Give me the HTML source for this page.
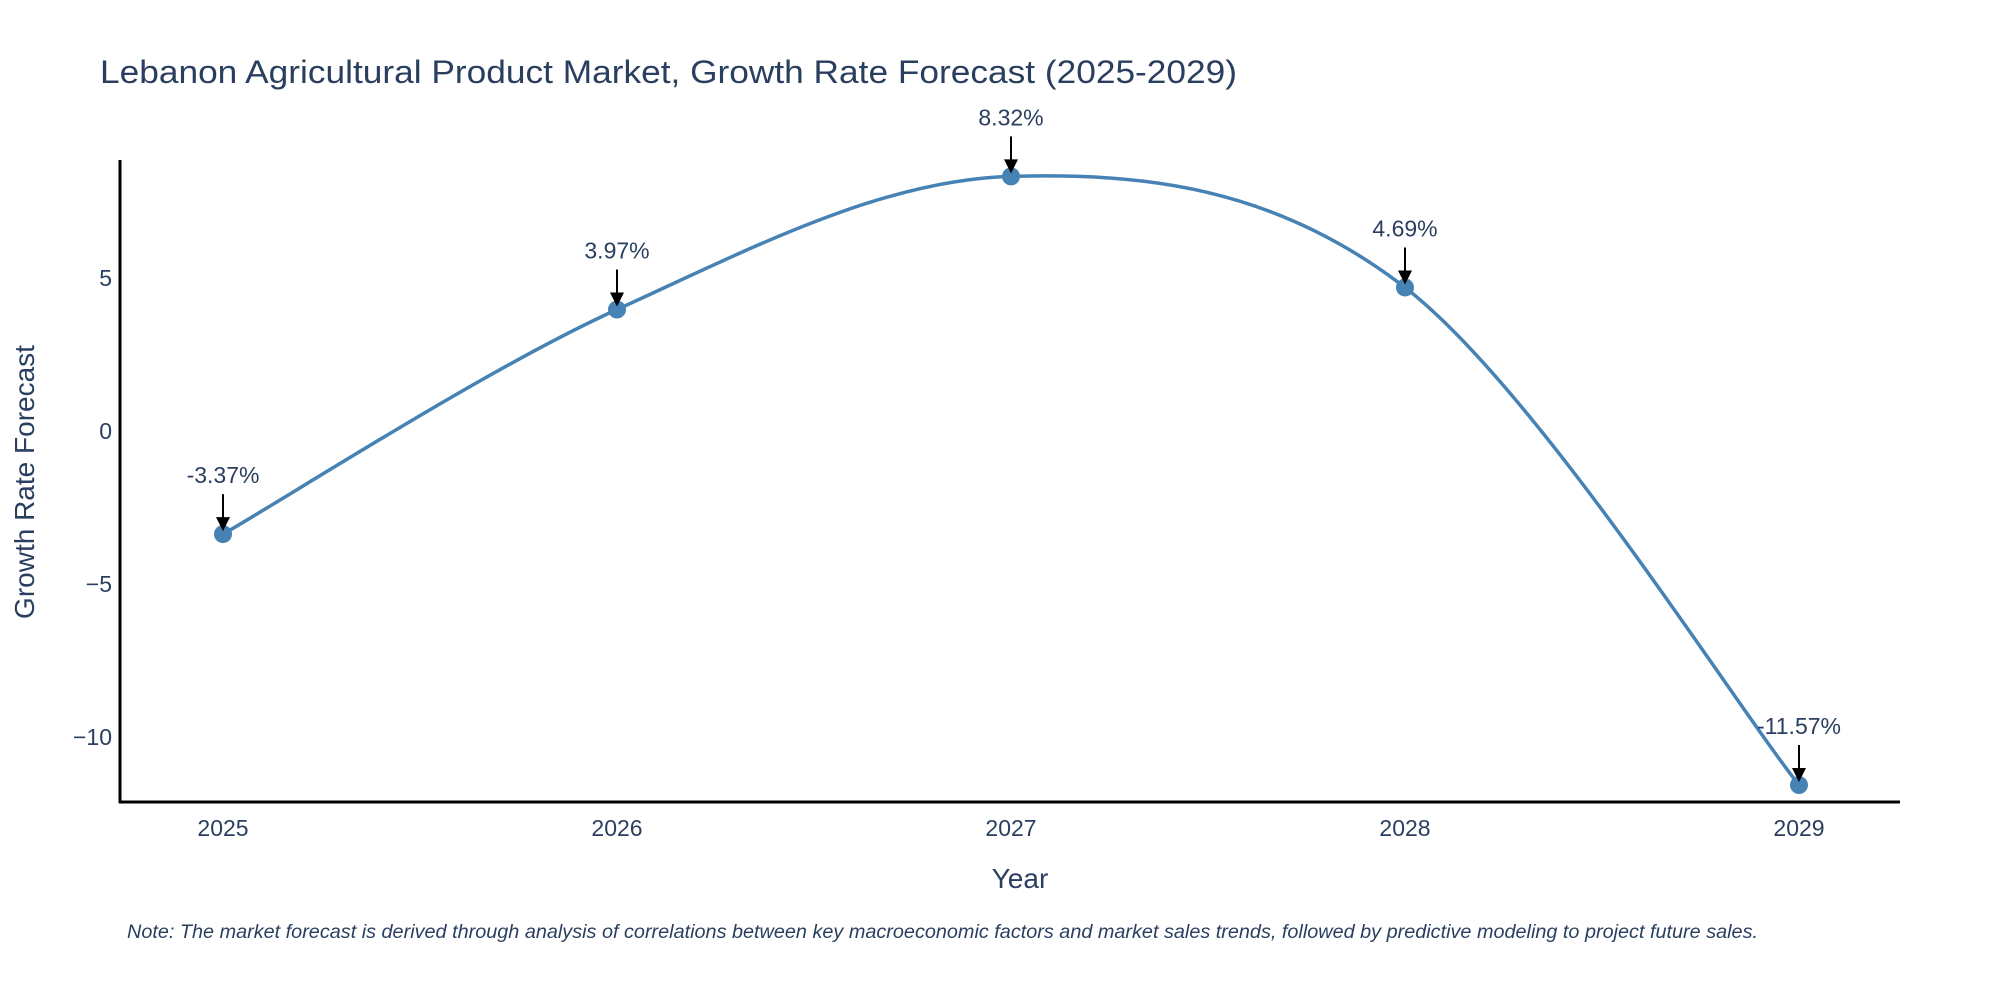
<!DOCTYPE html>
<html><head><meta charset="utf-8"><style>
html,body{margin:0;padding:0;background:#fff;}
svg{display:block;font-family:"Liberation Sans","DejaVu Sans",sans-serif;}
</style></head><body>
<svg id="chart" width="2000" height="1000" viewBox="0 0 2000 1000">
<text x="100" y="83" font-size="32" fill="#2a3f5f" textLength="1137" lengthAdjust="spacingAndGlyphs">Lebanon Agricultural Product Market, Growth Rate Forecast (2025-2029)</text>
<g id="yticks"></g>
<g id="xticks"></g>
<line x1="120" y1="160" x2="120" y2="803" stroke="#000" stroke-width="3"/>
<line x1="119" y1="802" x2="1900" y2="802" stroke="#000" stroke-width="3"/>
<path id="curve" fill="none" stroke="#4682b4" stroke-width="3.5"/>
<g id="points"></g>
<g id="annots"></g>
<text x="1020" y="888" font-size="28" fill="#2a3f5f" text-anchor="middle">Year</text>
<text transform="translate(34,482) rotate(-90)" font-size="28" fill="#2a3f5f" text-anchor="middle">Growth Rate Forecast</text>
<text x="127" y="938" font-size="19" font-style="italic" fill="#2a3f5f" textLength="1631" lengthAdjust="spacingAndGlyphs">Note: The market forecast is derived through analysis of correlations between key macroeconomic factors and market sales trends, followed by predictive modeling to project future sales.</text>
</svg>
<script>
const years = ["2025","2026","2027","2028","2029"];
const values = [-3.37, 3.97, 8.32, 4.69, -11.57];
const yTickValues = [-10, -5, 0, 5];
const yTickLabels = ["\u221210", "\u22125", "0", "5"];

const NS = "http://www.w3.org/2000/svg";
function xPos(i){ return 223 + i * 394; }
function yPos(v){ return 431 - v * 30.6; }
function mk(tag, attrs, parent){
  const el = document.createElementNS(NS, tag);
  for (const k in attrs) el.setAttribute(k, attrs[k]);
  parent.appendChild(el);
  return el;
}
const yt = document.getElementById("yticks");
yTickValues.forEach((v, i) => {
  const t = mk("text", {x: 112, y: yPos(v) + 8, "font-size": 23, fill: "#2a3f5f", "text-anchor": "end"}, yt);
  
  
  t.textContent = yTickLabels[i];
});
const xt = document.getElementById("xticks");
years.forEach((y, i) => {
  const t = mk("text", {x: xPos(i), y: 836, "font-size": 23, fill: "#2a3f5f", "text-anchor": "middle"}, xt);
  
  
  t.textContent = y;
});
const pts = values.map((v, i) => [xPos(i), yPos(v)]);
let d = "M" + pts[0][0] + "," + pts[0][1];
for (let i = 0; i < pts.length - 1; i++) {
  const p0 = pts[Math.max(i - 1, 0)], p1 = pts[i], p2 = pts[i + 1], p3 = pts[Math.min(i + 2, pts.length - 1)];
  const c1 = [p1[0] + (p2[0] - p0[0]) / 6, p1[1] + (p2[1] - p0[1]) / 6];
  const c2 = [p2[0] - (p3[0] - p1[0]) / 6, p2[1] - (p3[1] - p1[1]) / 6];
  d += " C" + c1[0] + "," + c1[1] + " " + c2[0] + "," + c2[1] + " " + p2[0] + "," + p2[1];
}
document.getElementById("curve").setAttribute("d", d);
const pg = document.getElementById("points");
const ag = document.getElementById("annots");
pts.forEach((p, i) => {
  const c = mk("circle", {cx: p[0], cy: p[1], r: 9, fill: "#4682b4"}, pg);
  
  
  const l = mk("line", {x1: p[0], y1: p[1] - 40, x2: p[0], y2: p[1] - 14, stroke: "#000", "stroke-width": 2}, ag);
  
  
  const h = mk("polygon", {points: (p[0]-7)+","+(p[1]-17)+" "+(p[0]+7)+","+(p[1]-17)+" "+p[0]+","+(p[1]-3), fill: "#000"}, ag);
  
  
  const t = mk("text", {x: p[0], y: p[1] - 51, "font-size": 23, fill: "#2a3f5f", "text-anchor": "middle"}, ag);
  
  
  t.textContent = values[i].toFixed(2) + "%";
});
</script>
</body></html>
